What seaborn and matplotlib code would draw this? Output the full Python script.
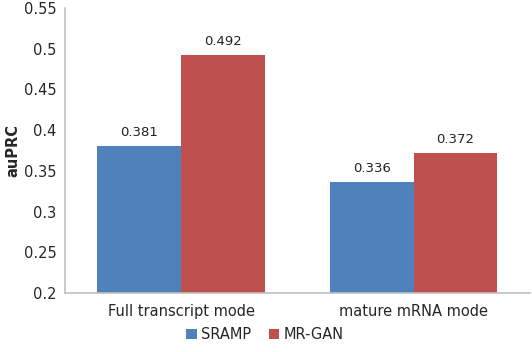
import pandas as pd
import seaborn as sns
import matplotlib.pyplot as plt

# values
modes = ["Full transcript mode", "mature mRNA mode"]
methods = ["SRAMP", "MR-GAN"]
sramp = [0.381, 0.336]
mrgan = [0.492, 0.372]
yticks = [0.2, 0.25, 0.3, 0.35, 0.4, 0.45, 0.5, 0.55]
ytick_labels = ["0.2", "0.25", "0.3", "0.35", "0.4", "0.45", "0.5", "0.55"]
colors = ["#4F81BD", "#C0504D"]

df = pd.DataFrame({
    "mode": modes * 2,
    "method": [methods[0]] * 2 + [methods[1]] * 2,
    "auPRC": sramp + mrgan,
})

sns.set_style("white")
plt.rcParams["font.family"] = ["DejaVu Sans"]

fig = plt.figure(figsize=(5.32, 3.52), dpi=100)
ax = fig.add_axes([0.122, 0.168, 0.874, 0.809])

sns.barplot(data=df, x="mode", y="auPRC", hue="method", palette=colors,
            width=0.72, saturation=1, linewidth=0, ax=ax)

for cont in ax.containers:
    ax.bar_label(cont, fmt="%.3f", padding=5, fontsize=9.5, color="#222222")

ax.set_ylim(0.2, 0.55)
ax.set_yticks(yticks)
ax.set_yticklabels(ytick_labels, fontsize=10.5)
ax.tick_params(axis="x", labelsize=10.5, length=0, pad=8)
ax.tick_params(axis="y", length=0, pad=6)
ax.set_xlabel("")
ax.set_ylabel("auPRC", fontsize=10.5, fontweight="bold")
ax.yaxis.set_label_coords(-0.095, 0.5)

for side in ["top", "right"]:
    ax.spines[side].set_visible(False)
for side in ["left", "bottom"]:
    ax.spines[side].set_color("#BFBFBF")
    ax.spines[side].set_linewidth(1.2)

ax.legend(loc="center", bbox_to_anchor=(0.43, -0.147), ncol=2,
          frameon=False, fontsize=10.5, handlelength=0.7, handleheight=0.7,
          handletextpad=0.3, columnspacing=1.2)

fig.savefig("out.png", dpi=100)
